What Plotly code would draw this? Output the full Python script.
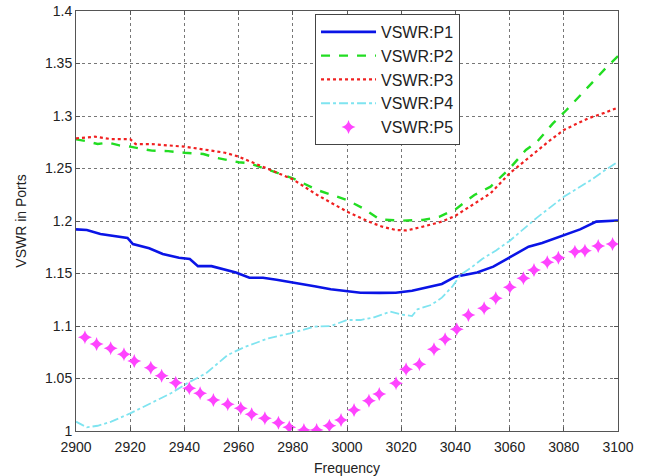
import plotly.graph_objects as go

# ---- data ----
p1_f = [2900, 2904, 2909, 2915, 2919, 2921, 2927, 2932, 2938, 2942, 2945, 2950, 2955, 2959,
        2964, 2969, 2974, 2979, 2984, 2988, 2994, 3000, 3005, 3012, 3018, 3024, 3030, 3035,
        3040, 3044, 3048, 3054, 3060, 3067, 3072, 3080, 3086, 3092, 3100]
p1_v = [1.192, 1.1914, 1.1876, 1.185, 1.1838, 1.178, 1.174, 1.1686, 1.165, 1.1638, 1.157, 1.157,
        1.154, 1.151, 1.146, 1.146, 1.144, 1.1416, 1.139, 1.1378, 1.135, 1.1335, 1.1317, 1.1315,
        1.1317, 1.1336, 1.137, 1.140, 1.147, 1.149, 1.151, 1.1565, 1.165, 1.1756, 1.179, 1.1867,
        1.192, 1.1994, 1.2005]

p2_f = [2900, 2904, 2908, 2912, 2916, 2920, 2928, 2934, 2940, 2947, 2952, 2960, 2964, 2970,
        2980, 2989, 3000, 3006, 3012, 3020, 3028, 3031, 3034, 3038, 3040, 3047, 3053, 3060,
        3066, 3070, 3076, 3081, 3089, 3096, 3100]
p2_v = [1.2778, 1.276, 1.2733, 1.2746, 1.272, 1.2708, 1.267, 1.2665, 1.265, 1.2638, 1.260, 1.256,
        1.255, 1.2495, 1.2407, 1.2295, 1.220, 1.212, 1.2016, 1.2003, 1.201, 1.2025, 1.204, 1.2089,
        1.2111, 1.2248, 1.2327, 1.250, 1.2676, 1.275, 1.293, 1.3057, 1.328, 1.347, 1.357]

p3_f = [2900, 2907, 2913, 2920, 2922, 2928, 2934, 2940, 2950, 2955, 2960, 2964, 2970, 2980,
        2989, 3000, 3008, 3013, 3018, 3022, 3028, 3035, 3040, 3047, 3053, 3060, 3069, 3075,
        3080, 3089, 3095, 3100]
p3_v = [1.2787, 1.2803, 1.278, 1.278, 1.2733, 1.2733, 1.272, 1.2708, 1.267, 1.265, 1.2613, 1.257,
        1.250, 1.2397, 1.2248, 1.2089, 1.1994, 1.1946, 1.1914, 1.191, 1.1946, 1.1994, 1.205,
        1.2168, 1.2264, 1.2454, 1.2645, 1.277, 1.2867, 1.2978, 1.303, 1.308]

p4_f = [2900, 2904, 2908, 2913, 2920, 2927, 2935, 2941, 2948, 2956, 2962, 2971, 2979, 2988,
        2994, 3000, 3005, 3010, 3016, 3020, 3024, 3026, 3031, 3035, 3039, 3042, 3046, 3050,
        3055, 3060, 3065, 3070, 3075, 3080, 3085, 3090, 3095, 3100]
p4_v = [1.0089, 1.0035, 1.005, 1.0089, 1.0168, 1.0257, 1.0359, 1.0454, 1.055, 1.0724, 1.0797,
        1.0883, 1.093, 1.0994, 1.1, 1.1057, 1.1057, 1.1083, 1.1137, 1.111, 1.1095, 1.1159, 1.120,
        1.127, 1.138, 1.149, 1.156, 1.164, 1.172, 1.181, 1.192, 1.203, 1.213, 1.223, 1.231, 1.239,
        1.248, 1.2565]

p5_f = [2903.3, 2907.6, 2912.8, 2917.7, 2921.5, 2927.6, 2931.6, 2936.8, 2941.8, 2945.8, 2950.7,
        2956.0, 2960.8, 2964.8, 2969.7, 2974.7, 2978.7, 2984.1, 2988.8, 2993.5, 2997.8, 3002.6,
        3008.1, 3011.9, 3018.1, 3021.8, 3026.7, 3032.1, 3036.2, 3040.5, 3044.8, 3050.6, 3054.9,
        3060.1, 3065.1, 3069.0, 3073.9, 3078.0, 3084.1, 3087.8, 3092.7, 3098.0]
p5_v = [1.0892, 1.0829, 1.0787, 1.073, 1.0667, 1.0603, 1.0527, 1.046, 1.0406, 1.0359, 1.0295,
        1.0254, 1.0216, 1.0159, 1.0121, 1.0079, 1.0035, 1.001, 1.001, 1.005, 1.0105, 1.02, 1.0289,
        1.0352, 1.0454, 1.0587, 1.0635, 1.0778, 1.0873, 1.0968, 1.1105, 1.1168, 1.1264, 1.1368,
        1.1454, 1.1533, 1.1606, 1.165, 1.1708, 1.1717, 1.1762, 1.1781]

names = ["VSWR:P1", "VSWR:P2", "VSWR:P3", "VSWR:P4", "VSWR:P5"]

FONT = "Liberation Sans, Arial, sans-serif"

fig = go.Figure()
fig.add_trace(go.Scatter(x=p1_f, y=p1_v, name=names[0], mode="lines",
                         line=dict(color="#0a14e6", width=2.6)))
fig.add_trace(go.Scatter(x=p2_f, y=p2_v, name=names[1], mode="lines",
                         line=dict(color="#22dd22", width=2.4, dash="dash")))
fig.add_trace(go.Scatter(x=p3_f, y=p3_v, name=names[2], mode="lines",
                         line=dict(color="#f02020", width=2.2, dash="dot")))
fig.add_trace(go.Scatter(x=p4_f, y=p4_v, name=names[3], mode="lines",
                         line=dict(color="#7fe4f0", width=1.8, dash="dashdot")))
fig.add_trace(go.Scatter(x=p5_f, y=p5_v, name=names[4], mode="markers",
                         marker=dict(symbol="star-diamond", size=10, color="#ff44ff",
                                     line=dict(width=0))))

axis_common = dict(
    showgrid=True, gridcolor="#777777", griddash="dot", gridwidth=1,
    showline=True, linecolor="#555555", linewidth=1, mirror="allticks",
    ticks="inside", ticklen=4, tickcolor="#555555",
    tickfont=dict(family=FONT, size=14, color="#222222"),
    zeroline=False, automargin=False,
)

fig.update_layout(
    width=646, height=476,
    margin=dict(l=76, r=28, t=11, b=45),
    paper_bgcolor="white", plot_bgcolor="white",
    font=dict(family=FONT, size=14, color="#222222"),
    xaxis=dict(range=[2900, 3100], dtick=20, tick0=2900, ticklabelstandoff=3,
               title=dict(text="Frequency", font=dict(family=FONT, size=14)),
               **axis_common),
    yaxis=dict(range=[1, 1.4], dtick=0.05, tick0=1,
               title=dict(text="VSWR in Ports", font=dict(family=FONT, size=14)),
               **axis_common),
    legend=dict(x=0.441, y=0.993, xanchor="left", yanchor="top",
                bgcolor="white", bordercolor="#444444", borderwidth=1,
                font=dict(family=FONT, size=16, color="#222222"),
                itemwidth=55, tracegroupgap=0),
    showlegend=True,
)

fig.write_html("out.html")
